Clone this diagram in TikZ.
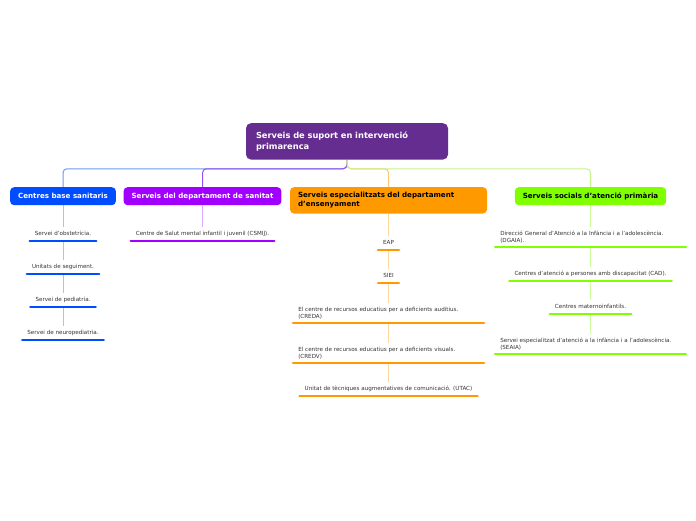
\documentclass[tikz,border=0pt]{standalone}
\usepackage{fontspec}
\setmainfont{DejaVu Sans}
\usetikzlibrary{backgrounds}
\definecolor{rootc}{HTML}{662D91}
\definecolor{bluec}{HTML}{004CFF}
\definecolor{purc}{HTML}{A100FF}
\definecolor{orc}{HTML}{FF9900}
\definecolor{grc}{HTML}{80FF00}
\definecolor{bluel}{HTML}{A8C0FF}
\definecolor{purl}{HTML}{DDA8FF}
\definecolor{orl}{HTML}{FFD79A}
\definecolor{grl}{HTML}{CCFF99}
\definecolor{topblue}{HTML}{6E98F2}
\definecolor{toppur}{HTML}{9C50F0}
\definecolor{topgr}{HTML}{C4F58A}
\definecolor{topor}{HTML}{FFC870}
\definecolor{txt}{HTML}{333333}
\tikzset{
  rootbox/.style={fill=rootc, text=white, rounded corners=5pt,
    font=\bfseries\fontsize{8.3}{11}\selectfont, align=left, text width=182pt,
    inner xsep=10pt, inner ysep=8.5pt, anchor=north},
  branch/.style={rounded corners=4pt, font=\bfseries\fontsize{7.1}{9}\selectfont,
    inner xsep=8pt, anchor=north, minimum height=18pt},
  child/.style={font=\fontsize{5.6}{7}\selectfont, text=txt, inner xsep=5pt,
    inner ysep=3.8pt, anchor=south,
    append after command={(\tikzlastnode.south west) edge[draw=#1, line width=2.5pt, line cap=round] (\tikzlastnode.south east)}},
  childs/.style={child=#1, text depth=1.5pt},
  childm/.style={child=#1, align=left, text width=180.5pt},
  topc/.style={draw=#1, line width=1pt, rounded corners=4pt},
  conn/.style={draw=#1, line width=0.8pt}
}
\begin{document}
\begin{tikzpicture}[x=1pt,y=-1pt]
\useasboundingbox (0,0) rectangle (696,520);
% root
\node[rootbox] (root) at (347,123) {Serveis de suport en intervenció\\primarenca};
% branches
\node[branch, fill=bluec, text=white] (b1) at (63,187) {Centres base sanitaris};
\node[branch, fill=purc, text=white] (b2) at (202.5,187) {Serveis del departament de sanitat};
\node[branch, fill=orc, text=black, align=left, text width=181pt, inner ysep=5.2pt] (b3) at (388.5,187) {Serveis especialitzats del departament\\d'ensenyament};
\node[branch, fill=grc, text=black] (b4) at (590.5,187) {Serveis socials d'atenció primària};
% blue children
\node[childs=bluec] (c11) at (63,241) {Servei d'obstetrícia.};
\node[childs=bluec] (c12) at (63,274) {Unitats de seguiment.};
\node[childs=bluec] (c13) at (63,307) {Servei de pediatria.};
\node[childs=bluec] (c14) at (63,340) {Servei de neuropediatria.};
% purple child
\node[childs=purc] (c21) at (202.5,241) {Centre de Salut mental infantil i juvenil (CSMIJ).};
% orange children
\node[childs=orc] (c31) at (388.5,250) {EAP};
\node[childs=orc] (c32) at (388.5,283) {SIEI};
\node[childm=orc] (c33) at (388.5,323) {El centre de recursos educatius per a deficients auditius.\\(CREDA)};
\node[childm=orc] (c34) at (388.5,363) {El centre de recursos educatius per a deficients visuals.\\(CREDV)};
\node[childs=orc] (c35) at (388.5,396) {Unitat de tècniques augmentatives de comunicació. (UTAC)};
% green children
\node[childm=grc] (c41) at (590.5,247) {Direcció General d'Atenció a la Infància i a l'adolescència.\\(DGAIA).};
\node[childs=grc] (c42) at (590.5,281) {Centres d'atenció a persones amb discapacitat (CAD).};
\node[childs=grc] (c43) at (590.5,314) {Centres maternoinfantils.};
\node[childm=grc] (c44) at (590.5,354) {Servei especialitzat d'atenció a la infància i a l'adolescència.\\(SEAIA)};
\begin{scope}[on background layer]
\fill[white] (0,0) rectangle (696,520);
\draw[topc=topblue] (root.south) -- ++(0,9) -| (b1.north);
\draw[topc=toppur] (root.south) -- ++(0,9) -| (b2.north);
\draw[topc=topor] (root.south) -- ++(0,9) -| (b3.north);
\draw[topc=topgr] (root.south) -- ++(0,9) -| (b4.north);
\draw[conn=bluel] (b1.south) -- (c11.north);
\draw[conn=bluel] (c11.south) -- (c12.north);
\draw[conn=bluel] (c12.south) -- (c13.north);
\draw[conn=bluel] (c13.south) -- (c14.north);
\draw[conn=purl] (b2.south) -- (c21.north);
\draw[conn=orl] (b3.south) -- (c31.north);
\draw[conn=orl] (c31.south) -- (c32.north);
\draw[conn=orl] (c32.south) -- (c33.north);
\draw[conn=orl] (c33.south) -- (c34.north);
\draw[conn=orl] (c34.south) -- (c35.north);
\draw[conn=grl] (b4.south) -- (c41.north);
\draw[conn=grl] (c41.south) -- (c42.north);
\draw[conn=grl] (c42.south) -- (c43.north);
\draw[conn=grl] (c43.south) -- (c44.north);
\end{scope}
\end{tikzpicture}
\end{document}
